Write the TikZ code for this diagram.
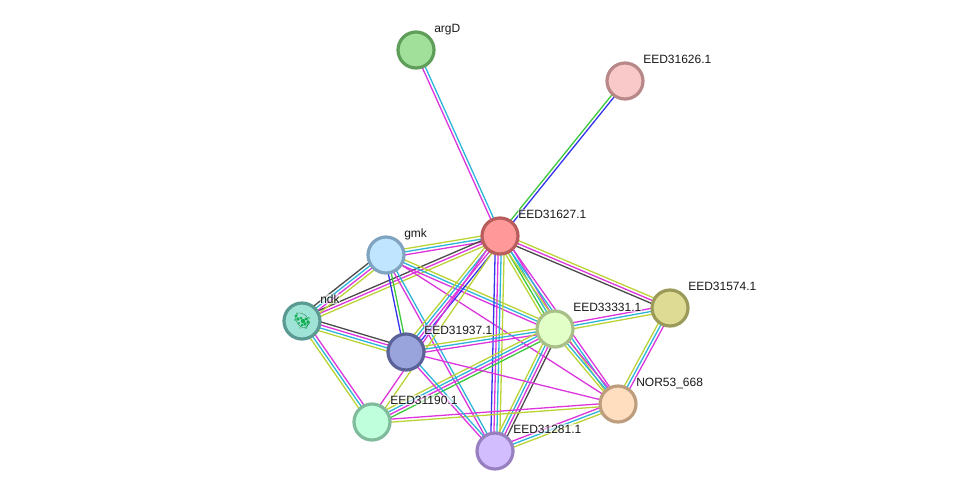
\documentclass[tikz,border=0pt]{standalone}
\usepackage{fontspec}
\setmainfont{Liberation Sans}
\usetikzlibrary{calc,backgrounds}
\definecolor{cYel}{HTML}{BBD335}
\definecolor{cCya}{HTML}{2BB5D8}
\definecolor{cMag}{HTML}{DC35DC}
\definecolor{cGrn}{HTML}{3CC83C}
\definecolor{cBlu}{HTML}{3333EE}
\definecolor{cDrk}{HTML}{4A4A4A}
\definecolor{cFold}{HTML}{10B050}
\definecolor{fArg}{HTML}{A0E09A}\definecolor{bArg}{HTML}{5E9E5A}
\definecolor{fSix}{HTML}{F9C9C9}\definecolor{bSix}{HTML}{B88888}
\definecolor{fSev}{HTML}{FF9999}\definecolor{bSev}{HTML}{B85C5C}
\definecolor{fGmk}{HTML}{C0E6FF}\definecolor{bGmk}{HTML}{80A4C0}
\definecolor{fNdk}{HTML}{9EE3D5}\definecolor{bNdk}{HTML}{5A9A92}
\definecolor{fNin}{HTML}{9AA4DC}\definecolor{bNin}{HTML}{5A6298}
\definecolor{fThr}{HTML}{E2FFC8}\definecolor{bThr}{HTML}{A8C088}
\definecolor{fFiv}{HTML}{DDDB94}\definecolor{bFiv}{HTML}{9C9A58}
\definecolor{fNor}{HTML}{FFDEC0}\definecolor{bNor}{HTML}{BC9E7E}
\definecolor{fOne}{HTML}{C0FFDC}\definecolor{bOne}{HTML}{80BC9C}
\definecolor{fTwo}{HTML}{D2BEFF}\definecolor{bTwo}{HTML}{9880C0}
\tikzset{
  protein/.style={circle,minimum size=36pt,inner sep=0pt,line width=3.2pt},
  tag/.style={font=\fontsize{12}{14}\selectfont,text=black!90,inner sep=0.6pt,anchor=base west,
              fill=white,fill opacity=0.6,text opacity=1},
  strand/.style={line width=1.3pt}
}
% One evidence line per colour, spread evenly across the a-b axis;
% the first colour lies on the left when travelling from a to b.
% A colour of "none" keeps its slot empty.
\newcommand{\evlink}[3]{%
  \begin{scope}[on background layer]
    \foreach \c [count=\k] in {#3}{\xdef\evcount{\k}}%
    \foreach \c [count=\i] in {#3}{%
      \pgfmathsetmacro{\off}{(\evcount+1)/2*3-\i*3}%
      \draw[strand,draw=\c] ($(#1)!\off pt!90:(#2)$) -- ($(#2)!\off pt!-90:(#1)$);
    }%
  \end{scope}%
}
\begin{document}
\begin{tikzpicture}[x=1pt,y=-1pt]
\useasboundingbox (0,0) rectangle (976,496);

% proteins
\node[protein,fill=fArg,draw=bArg] (argD) at (416,50) {};
\node[protein,fill=fSix,draw=bSix] (p626) at (625,81) {};
\node[protein,fill=fSev,draw=bSev] (p627) at (500,236) {};
\node[protein,fill=fGmk,draw=bGmk] (gmk)  at (386,255) {};
\node[protein,fill=fNdk,draw=bNdk] (ndk)  at (302,321) {};
\node[protein,fill=fNin,draw=bNin] (p937) at (406,352) {};
\node[protein,fill=fThr,draw=bThr] (p333) at (555,329) {};
\node[protein,fill=fFiv,draw=bFiv] (p574) at (670,308) {};
\node[protein,fill=fNor,draw=bNor] (nor)  at (618,404) {};
\node[protein,fill=fOne,draw=bOne] (p190) at (372,422) {};
\node[protein,fill=fTwo,draw=bTwo] (p281) at (495,451) {};

% small structure drawing inside ndk
\foreach \dx/\dy/\r in {-6/-5/1.6,-4/-2/1.8,-1/-3/1.3,1/0/2.2,4/-2/1.7,6/1/1.8,3/3/1.9,0/4/1.5,-3/2/1.2,7/-3/0.9,-7/-1/0.8,-2/7/0.7,4/7/0.8,-5/-7/0.9}
  \fill[cFold] ($(ndk)+(\dx,\dy)$) circle (\r);
\draw[cFold!70!black,line width=0.3pt] ($(ndk)+(-7,-4)$) .. controls ($(ndk)+(-4,8)$) and ($(ndk)+(4,10)$) .. ($(ndk)+(8,1)$);
\draw[cFold!70!black,line width=0.3pt] ($(ndk)+(-6,-8)$) .. controls ($(ndk)+(2,-9)$) and ($(ndk)+(9,-4)$) .. ($(ndk)+(5,6)$);

% interactions
\evlink{argD}{p627}{cCya,cMag}
\evlink{p626}{p627}{cBlu,cGrn}
\evlink{gmk}{p627}{cYel,cCya,cMag}
\evlink{ndk}{p627}{cDrk,cMag,cYel}
\evlink{ndk}{gmk}{cDrk,cCya,cMag,cYel}
\evlink{ndk}{p937}{cDrk,cMag,cCya,cYel}
\evlink{ndk}{p190}{cMag,cCya,cYel}
\evlink{gmk}{p937}{cGrn,cBlu}
\evlink{gmk}{p281}{cCya,cMag}
\evlink{gmk}{p333}{cYel,cCya,cMag}
\evlink{gmk}{nor}{cMag}
\evlink{p937}{p627}{cYel,cCya,cMag,cBlu}
\evlink{p190}{p627}{cMag,none,cYel}
\evlink{p627}{p333}{cMag,cCya,cGrn,cYel}
\evlink{p627}{nor}{cMag,cCya,cYel}
\evlink{p627}{p281}{cYel,cCya,cMag,cBlu}
\evlink{p627}{p574}{cYel,cMag,cDrk}
\evlink{p333}{p574}{cMag,cCya,cYel}
\evlink{p937}{p333}{cYel,cCya,cMag}
\evlink{p190}{p333}{cYel,cCya,cMag,cGrn}
\evlink{p281}{p333}{cYel,cCya,cMag,cDrk}
\evlink{p333}{nor}{cMag,cCya,cYel}
\evlink{nor}{p574}{cYel,cCya,cMag}
\evlink{p937}{nor}{cMag}
\evlink{p190}{nor}{cMag,cYel}
\evlink{p281}{nor}{cMag,cCya,cYel}
\evlink{p937}{p281}{cCya,cMag}

% names
\node[tag] (targ) at (433.5,32) {argD};
\node[tag] (t626) at (642.5,63) {EED31626.1};
\node[tag] (t627) at (517.5,218) {EED31627.1};
\node[tag] (tgmk) at (403.5,237) {gmk};
\node[tag] (tndk) at (319.5,303) {ndk};
\node[tag] (t937) at (423.5,334) {EED31937.1};
\node[tag] (t333) at (572.5,311) {EED33331.1};
\node[tag] (t574) at (687.5,290) {EED31574.1};
\node[tag] (tnor) at (635.5,386) {NOR53\_668};
\node[tag] (t190) at (389.5,404) {EED31190.1};
\node[tag] (t281) at (512.5,433) {EED31281.1};
\end{tikzpicture}
\end{document}
